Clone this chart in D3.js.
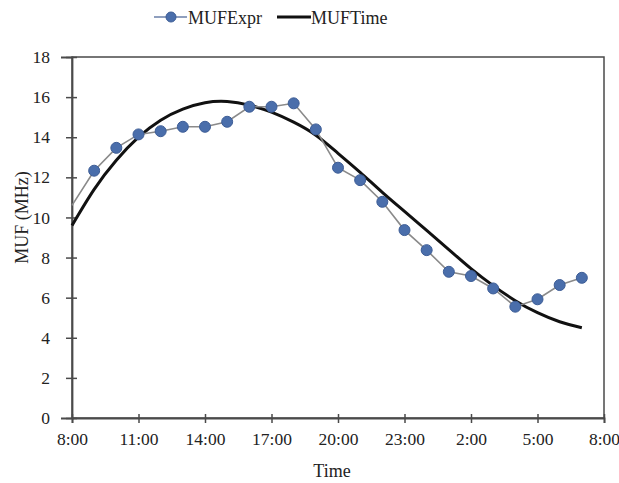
<!DOCTYPE html>
<html>
<head>
<meta charset="utf-8">
<script src="https://cdn.jsdelivr.net/npm/d3@7"></script>
<style>
  body { margin: 0; background: #fff; }
  text { font-family: "Liberation Serif", "Times New Roman", serif; fill: #222; }
</style>
</head>
<body>
<svg id="chart" width="619" height="483"></svg>
<script>
// hours after 8:00 (0 = 8:00, 24 = 8:00 next day)
var hours = [0,1,2,3,4,5,6,7,8,9,10,11,12,13,14,15,16,17,18,19,20,21,22,23];
var mufExpr = [10.6,12.33,13.47,14.14,14.3,14.52,14.52,14.77,15.52,15.52,15.69,14.39,
               12.48,11.86,10.78,9.37,8.37,7.29,7.08,6.46,5.55,5.92,6.63,6.99];
var mufTime = [9.6,11.4,12.85,14.0,14.85,15.4,15.72,15.78,15.6,15.25,14.75,14.1,
               13.2,12.25,11.25,10.3,9.35,8.4,7.45,6.6,5.85,5.25,4.8,4.5];
var xTicks = [0,3,6,9,12,15,18,21,24];
var xTickLabels = ["8:00","11:00","14:00","17:00","20:00","23:00","2:00","5:00","8:00"];
var yTicks = [0,2,4,6,8,10,12,14,16,18];

var margin = {top: 57, right: 15, bottom: 65, left: 72},
    width = 619 - margin.left - margin.right,
    height = 483 - margin.top - margin.bottom;

var svg = d3.select("#chart");
var chart = svg.append("g")
    .attr("transform", "translate(" + margin.left + "," + margin.top + ")");

var x = d3.scaleLinear().domain([0, 24]).range([0, width]);
var y = d3.scaleLinear().domain([0, 18]).range([height, 0]);

var axisColor = "#4a4a4a";

// frame
chart.append("rect")
    .attr("width", width).attr("height", height)
    .attr("fill", "none")
    .attr("stroke", axisColor)
    .attr("stroke-width", 1.5);

var yAxis = chart.append("g")
    .call(d3.axisLeft(y).tickValues(yTicks).tickSize(11).tickPadding(11));
yAxis.select(".domain").attr("stroke", axisColor).attr("stroke-width", 1.8);
yAxis.selectAll(".tick line").attr("stroke", axisColor).attr("stroke-width", 1.5)
    .attr("x1", 5).attr("x2", -6);
yAxis.selectAll(".tick text")
    .style("font-family", "Liberation Serif")
    .style("font-size", "17.5px").attr("fill", "#333");

var xAxis = chart.append("g")
    .attr("transform", "translate(0," + height + ")")
    .call(d3.axisBottom(x).tickValues(xTicks)
      .tickFormat(function(d, i) { return xTickLabels[i]; })
      .tickSize(5).tickPadding(10));
xAxis.select(".domain").attr("stroke", axisColor).attr("stroke-width", 1.8);
xAxis.selectAll(".tick line").attr("stroke", axisColor).attr("stroke-width", 1.5)
    .attr("y1", -4).attr("y2", 5);
xAxis.selectAll(".tick text")
    .style("font-family", "Liberation Serif")
    .style("font-size", "17.5px").attr("fill", "#333");

// axis titles
chart.append("text")
    .attr("x", width / 2 - 6)
    .attr("y", height + 59)
    .attr("text-anchor", "middle")
    .style("font-size", "18px")
    .text("Time");

chart.append("text")
    .attr("transform", "translate(-44," + (height / 2 - 20) + ") rotate(-90)")
    .attr("text-anchor", "middle")
    .style("font-size", "18px")
    .text("MUF (MHz)");

// MUFTime curve
var timeLine = d3.line()
    .x(function(d, i) { return x(hours[i]); })
    .y(function(d) { return y(d); })
    .curve(d3.curveNatural);

chart.append("path")
    .datum(mufTime)
    .attr("fill", "none")
    .attr("stroke", "#111")
    .attr("stroke-width", 3)
    .attr("d", timeLine);

// MUFExpr
var exprLine = d3.line()
    .x(function(d, i) { return x(hours[i]); })
    .y(function(d) { return y(d); });

chart.append("path")
    .datum(mufExpr)
    .attr("fill", "none")
    .attr("stroke", "#8a8a8a")
    .attr("stroke-width", 1.6)
    .attr("d", exprLine);

chart.selectAll(".dot")
    .data(mufExpr.slice(1))
    .enter().append("circle")
    .attr("class", "dot")
    .attr("cx", function(d, i) { return x(hours[i + 1]); })
    .attr("cy", function(d) { return y(d); })
    .attr("r", 5.5)
    .attr("fill", "#4a6eab")
    .attr("stroke", "#3d5d96")
    .attr("stroke-width", 1);

// legend
var legend = svg.append("g");
legend.append("line")
    .attr("x1", 154).attr("x2", 187).attr("y1", 17).attr("y2", 17)
    .attr("stroke", "#6a7fa8").attr("stroke-width", 1.6);
legend.append("circle")
    .attr("cx", 171).attr("cy", 17).attr("r", 5)
    .attr("fill", "#4a6eab").attr("stroke", "#3d5d96");
legend.append("text")
    .attr("x", 188).attr("y", 23.5)
    .style("font-size", "18px")
    .text("MUFExpr");
legend.append("line")
    .attr("x1", 277).attr("x2", 311).attr("y1", 17).attr("y2", 17)
    .attr("stroke", "#111").attr("stroke-width", 3);
legend.append("text")
    .attr("x", 311).attr("y", 23.5)
    .style("font-size", "18px")
    .text("MUFTime");
</script>
</body>
</html>
